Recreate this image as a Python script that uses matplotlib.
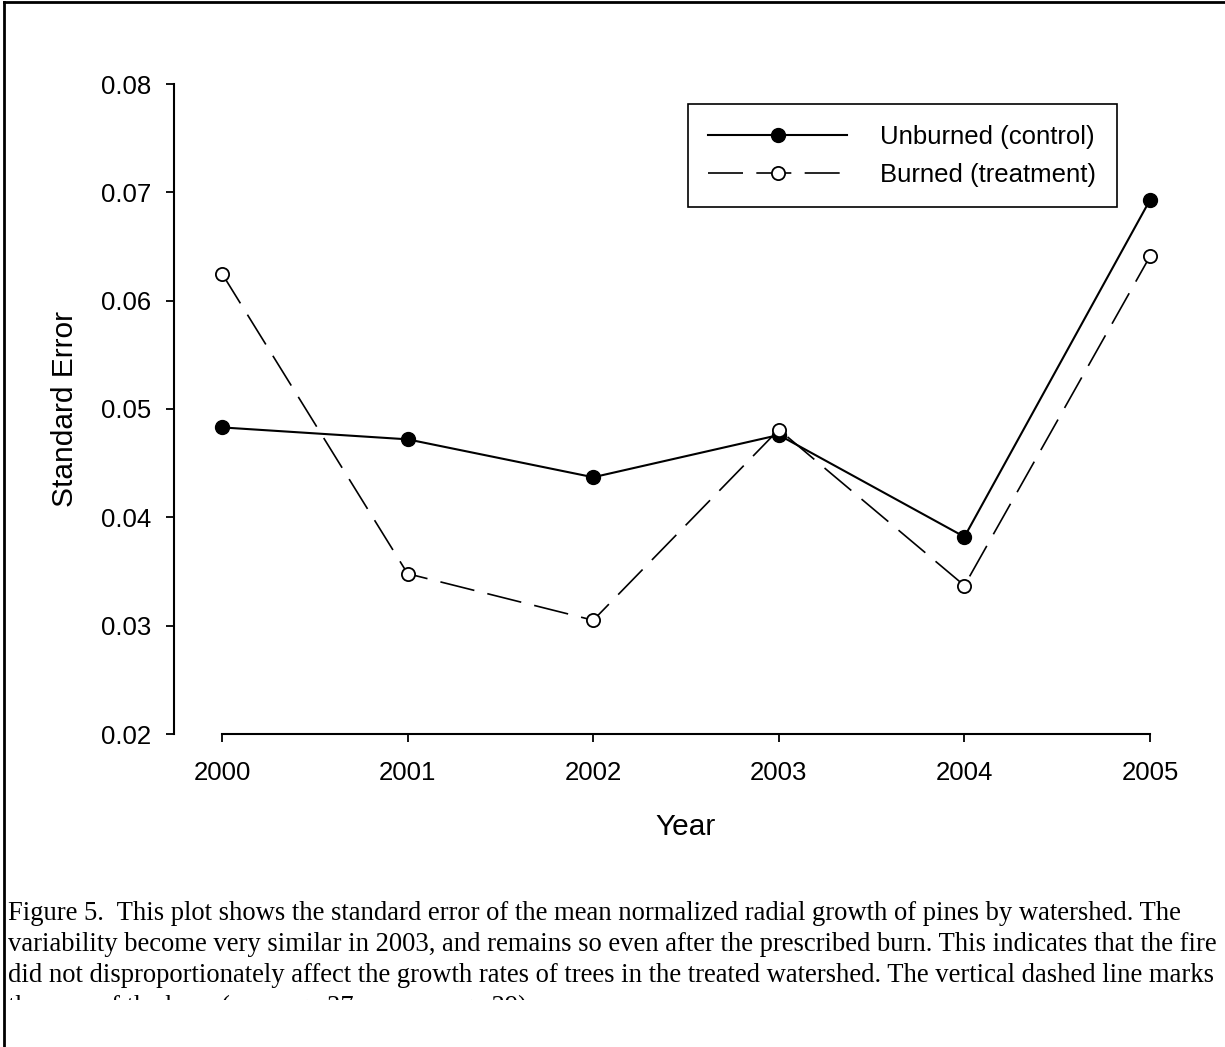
import matplotlib
matplotlib.use("Agg")
import matplotlib.pyplot as plt
from matplotlib.lines import Line2D
from matplotlib.transforms import Bbox, TransformedBbox

years = [2000, 2001, 2002, 2003, 2004, 2005]
unburned = [0.0483, 0.0472, 0.0437, 0.0476, 0.0382, 0.0693]
burned = [0.0625, 0.0348, 0.0305, 0.0481, 0.0337, 0.0641]
yticks = [0.02, 0.03, 0.04, 0.05, 0.06, 0.07, 0.08]
caption = [
    "Figure 5.  This plot shows the standard error of the mean normalized radial growth of pines by watershed. The",
    "variability become very similar in 2003, and remains so even after the prescribed burn. This indicates that the fire",
    "did not disproportionately affect the growth rates of trees in the treated watershed. The vertical dashed line marks",
    "the area of the burn (see page 37 versus page 39).",
]

W, H = 1225, 1047
fig = plt.figure(figsize=(W / 100, H / 100), dpi=100)
plt.rcParams['font.family'] = ['Liberation Sans', 'DejaVu Sans']

# axes placed in pixel terms: left spine at x=174, 0.02 at y=734, 0.08 at y=84
ax = fig.add_axes([174 / W, 1 - 734 / H, (1168.6 - 174) / W, 650 / H])

ax.plot(years, unburned, color='black', lw=1.5, marker='o', ms=10,
        mfc='black', mec='black', label='Unburned (control)', clip_on=False, zorder=3)
ax.plot(years, burned, color='black', lw=1.2, dashes=(21, 8), marker='o', ms=9.5,
        mfc='white', mec='black', mew=1.3, label='Burned (treatment)', clip_on=False, zorder=4)

ax.set_xlim(2000 - 48 / 185.6, 2005.1)
ax.set_ylim(0.02, 0.08)
ax.set_xticks(years)
ax.set_yticks(yticks)
ax.set_yticklabels(["%.2f" % v for v in yticks])

for side in ['top', 'right']:
    ax.spines[side].set_visible(False)
ax.spines['left'].set_linewidth(1.5)
ax.spines['bottom'].set_linewidth(1.5)
ax.spines['left'].set_bounds(0.02, 0.08)
ax.spines['bottom'].set_bounds(2000, 2005)
ax.tick_params(axis='both', direction='out', length=5.5, width=1.3, labelsize=18.5, colors='black')
ax.tick_params(axis='y', pad=11)
ax.tick_params(axis='x', pad=14)

ax.set_xlabel('Year', fontsize=21.5)
ax.set_ylabel('Standard Error', fontsize=21.5)
ax.xaxis.set_label_coords((686 - 174) / 994.6, (734 - 827) / 650)
ax.xaxis.label.set_verticalalignment('center')
ax.yaxis.set_label_coords((65 - 174) / 994.6, 0.5)
ax.yaxis.label.set_verticalalignment('center')

leg = ax.legend(loc='upper right', bbox_to_anchor=((1117 - 174) / 994.6, (734 - 104) / 650),
                borderaxespad=0, fontsize=18.5, handlelength=5.4, handletextpad=1.3,
                borderpad=0.8, labelspacing=0.55, fancybox=False, framealpha=1,
                edgecolor='black', markerfirst=True)
leg.get_frame().set_linewidth(1.2)

# caption in serif, each line on its own baseline; last line clipped
baselines = [920, 951, 982, 1013.5]
for txt, yb in zip(caption, baselines):
    t = fig.text(8 / W, 1 - yb / H, txt, fontsize=19.2, va='baseline', ha='left',
                 family=['Liberation Serif', 'DejaVu Serif'], color='black')
    if yb > 1000:
        t.set_clip_box(TransformedBbox(Bbox([[0, 1 - 1000 / H], [1, 1]]), fig.transFigure))
        t.set_clip_on(True)

# page frame (left and top edges)
fig.add_artist(Line2D([3.5 / W, 3.5 / W], [0, 1 - 1.5 / H], transform=fig.transFigure,
                      color='black', lw=2))
fig.add_artist(Line2D([3.5 / W, 1], [1 - 1.5 / H, 1 - 1.5 / H], transform=fig.transFigure,
                      color='black', lw=2))

fig.savefig('out.png', dpi=100)
